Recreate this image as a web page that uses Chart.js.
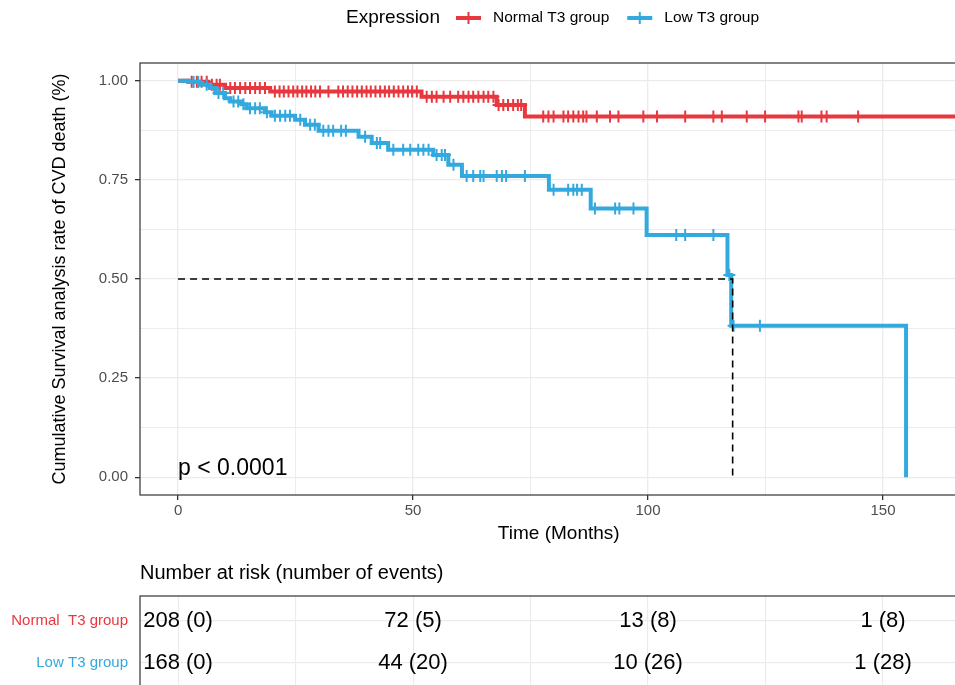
<!DOCTYPE html>
<html>
<head>
<meta charset="utf-8">
<script src="https://cdn.jsdelivr.net/npm/chart.js@4.4.1/dist/chart.umd.min.js"></script>
<style>
  html, body { margin: 0; padding: 0; background: #fff; overflow: hidden; }
  #wrap { position: relative; width: 955px; height: 685px; overflow: hidden; }
  canvas { position: absolute; left: 0; }
  #km { top: 0; }
  #risk { top: 548px; }
</style>
</head>
<body>
<div id="wrap">
  <canvas id="km" width="990" height="560"></canvas>
  <canvas id="risk" width="990" height="180"></canvas>
</div>
<script>
const RED = '#E8383F';
const BLUE = '#33A9DE';
const FONT = "'Liberation Sans', Arial, sans-serif";

const groupNames = ['Normal T3 group', 'Low T3 group'];
const tableNames = ['Normal  T3 group', 'Low T3 group'];

// Kaplan-Meier steps (months, survival)
const normalTimes = [0, 2.2, 6.4, 10, 19.6, 51.8, 67.8, 73.8, 168];
const normalSurv  = [1, 0.998, 0.990, 0.982, 0.973, 0.960, 0.939, 0.910, 0.910];

const lowTimes = [0, 2.2, 4.7, 6.8, 7.9, 10, 11.1, 13.5, 14.6, 18.5, 19.9, 24.9, 27, 29.9,
  38.4, 41.2, 44.7, 54.3, 57.5, 60.4, 78.9, 87.8, 99.7, 116.9, 117.7, 154.9];
const lowSurv = [1, 0.997, 0.990, 0.982, 0.969, 0.956, 0.948, 0.941, 0.931, 0.921, 0.912, 0.902, 0.889, 0.874,
  0.859, 0.843, 0.826, 0.813, 0.788, 0.760, 0.725, 0.678, 0.611, 0.510, 0.382, 0];

// censored observations (months)
const normalCensor = [2.9, 4.0, 5.0, 6.1, 7.2, 8.2, 8.9, 11.1, 12.1, 13.2, 14.3, 15.3, 16.4, 17.4, 18.5,
  20.6, 21.6, 22.5, 23.5, 24.5, 25.4, 26.4, 27.3, 28.3, 29.2, 30.2, 32,
  34.1, 35.1, 36.1, 37.1, 38.1, 39.1, 40.1, 41, 42, 43, 44, 44.9, 45.9, 46.9, 47.9, 48.9, 49.8, 50.8,
  52.9, 54, 55, 56.5, 57.9, 59.6, 60.7, 61.8, 62.8, 63.9, 65, 66, 67.1,
  68.2, 69.2, 70.2, 71.3, 72.3, 73,
  77.7, 78.8, 79.9, 82, 83, 84.1, 85.2, 86.2, 86.9, 89.1, 91.9, 93.7, 99, 101.9, 107.9,
  113.9, 115.7, 121, 124.9, 132, 132.7, 136.9, 138, 144.7];
const lowCensor = [3.3, 4.3, 6.1, 8.6, 9.6, 11.8, 12.8, 13.9, 15.3, 16.4, 17.4, 18.9, 20.6, 21.7, 22.8, 23.8,
  26, 28.1, 29.1, 30.9, 32, 33, 34.7, 35.7, 39.8, 42.3, 43, 45.8, 47.9, 49.4, 51.1, 52.2, 53.3,
  55, 56.1, 56.8, 58.6, 61.4, 62.8, 64.3, 65, 67.8, 68.9, 69.8, 73.8, 79.9, 83, 84.1, 84.9, 85.9,
  88.7, 93, 93.9, 96.9, 106, 107.9, 113.9, 117.3, 118.2, 123.8];

// median survival guide
const medianX = [0, 118, 118];
const medianY = [0.5, 0.5, 0];

// risk table
const riskTimes = [0, 50, 100, 150];
const normalAtRisk = [208, 72, 13, 1];
const normalEvents = [0, 5, 8, 8];
const lowAtRisk = [168, 44, 10, 1];
const lowEvents = [0, 20, 26, 28];

const xTicks = [0, 25, 50, 75, 100, 125, 150];
const yTicks = [0, 0.125, 0.25, 0.375, 0.5, 0.625, 0.75, 0.875, 1];
const pText = 'p < 0.0001';
const tableTitle = 'Number at risk (number of events)';

const X_MIN = -8.1, X_MAX = 170.1;

Chart.defaults.font.family = FONT;

function survAt(times, surv, t) {
  let s = surv[0];
  for (let i = 0; i < times.length; i++) {
    if (times[i] <= t) s = surv[i];
  }
  return s;
}
const toPts = (xs, ys) => xs.map((x, i) => ({ x: x, y: ys[i] }));
const isMajorY = v => Math.abs(v * 4 - Math.round(v * 4)) < 1e-9;
const isMajorX = v => v % 50 === 0;

// ggplot-like legend on one row
const legendPlugin = {
  id: 'topLegend',
  afterDraw(chart) {
    const ctx = chart.ctx;
    const y = 18;
    let x = 346;
    ctx.save();
    ctx.textBaseline = 'middle';
    ctx.textAlign = 'left';
    ctx.fillStyle = '#000';
    ctx.font = '19px ' + FONT;
    ctx.fillText('Expression', x, y);
    x += ctx.measureText('Expression').width + 16;
    ctx.font = '15.5px ' + FONT;
    [[groupNames[0], RED], [groupNames[1], BLUE]].forEach(([name, col]) => {
      ctx.strokeStyle = col;
      ctx.lineWidth = 4;
      ctx.beginPath(); ctx.moveTo(x, y); ctx.lineTo(x + 25, y); ctx.stroke();
      ctx.lineWidth = 2;
      ctx.beginPath(); ctx.moveTo(x + 12.5, y - 6); ctx.lineTo(x + 12.5, y + 6); ctx.stroke();
      x += 37;
      ctx.fillStyle = '#000';
      ctx.fillText(name, x, y);
      x += ctx.measureText(name).width + 18;
    });
    ctx.restore();
  }
};

const borderPlugin = {
  id: 'panelBorder',
  afterDatasetsDraw(chart) {
    const { ctx, chartArea: a } = chart;
    ctx.save();
    ctx.strokeStyle = '#333333';
    ctx.lineWidth = 1.2;
    ctx.strokeRect(a.left, a.top, a.right - a.left, a.bottom - a.top);
    ctx.restore();
  }
};

const pPlugin = {
  id: 'pValue',
  afterDatasetsDraw(chart) {
    const { ctx, scales: { x, y } } = chart;
    ctx.save();
    ctx.fillStyle = '#000';
    ctx.font = '23px ' + FONT;
    ctx.textAlign = 'left';
    ctx.textBaseline = 'alphabetic';
    ctx.fillText(pText, x.getPixelForValue(0), y.getPixelForValue(0.006));
    ctx.restore();
  }
};

const riskPlugin = {
  id: 'riskText',
  afterDatasetsDraw(chart) {
    const { ctx, chartArea, scales: { x, y } } = chart;
    ctx.save();
    ctx.fillStyle = '#000';
    ctx.textBaseline = 'middle';
    ctx.textAlign = 'left';
    ctx.font = '20px ' + FONT;
    ctx.fillText(tableTitle, chartArea.left, chartArea.top - 23);
    ctx.font = '22px ' + FONT;
    ctx.textAlign = 'center';
    riskTimes.forEach((t, i) => {
      ctx.fillText(normalAtRisk[i] + ' (' + normalEvents[i] + ')', x.getPixelForValue(t), y.getPixelForValue(0));
      ctx.fillText(lowAtRisk[i] + ' (' + lowEvents[i] + ')', x.getPixelForValue(t), y.getPixelForValue(1));
    });
    ctx.restore();
  }
};

function censorSet(label, times, surv, cens, col) {
  return {
    label: label,
    data: cens.map(t => ({ x: t, y: survAt(times, surv, t) })),
    showLine: false,
    pointStyle: 'cross',
    pointRadius: 6,
    pointBorderWidth: 2,
    borderColor: col,
    pointBorderColor: col
  };
}

new Chart(document.getElementById('km'), {
  type: 'line',
  data: {
    datasets: [
      {
        label: 'median',
        data: toPts(medianX, medianY),
        borderColor: '#000',
        borderWidth: 1.6,
        borderDash: [7, 5],
        pointRadius: 0
      },
      censorSet(groupNames[1] + ' censor', lowTimes, lowSurv, lowCensor, BLUE),
      {
        label: groupNames[1],
        data: toPts(lowTimes, lowSurv),
        borderColor: BLUE,
        borderWidth: 4,
        pointRadius: 0,
        stepped: true
      },
      censorSet(groupNames[0] + ' censor', normalTimes, normalSurv, normalCensor, RED),
      {
        label: groupNames[0],
        data: toPts(normalTimes, normalSurv),
        borderColor: RED,
        borderWidth: 4,
        pointRadius: 0,
        stepped: true
      }
    ]
  },
  options: {
    responsive: false,
    animation: false,
    events: [],
    layout: { padding: { top: 63, right: 12.5, left: 0, bottom: 0 } },
    plugins: { legend: { display: false }, tooltip: { enabled: false } },
    scales: {
      x: {
        type: 'linear',
        min: X_MIN,
        max: X_MAX,
        afterBuildTicks: s => { s.ticks = xTicks.map(v => ({ value: v })); },
        ticks: {
          callback: v => isMajorX(v) ? String(v) : '',
          color: '#4D4D4D',
          font: { size: 15 },
          padding: 2,
          maxRotation: 0,
          autoSkip: false
        },
        grid: {
          color: '#EBEBEB',
          lineWidth: c => (c.tick && isMajorX(c.tick.value)) ? 1.3 : 0.9,
          tickLength: 5,
          tickColor: c => (c.tick && isMajorX(c.tick.value)) ? '#333333' : 'rgba(0,0,0,0)'
        },
        border: { display: false },
        title: {
          display: true,
          text: 'Time (Months)',
          color: '#000',
          font: { size: 19 },
          padding: { top: 0, bottom: 15 }
        },
        afterFit: s => { s.height = 65; }
      },
      y: {
        type: 'linear',
        min: -0.045,
        max: 1.045,
        afterBuildTicks: s => { s.ticks = yTicks.map(v => ({ value: v })); },
        ticks: {
          callback: v => isMajorY(v) ? v.toFixed(2) : '',
          color: '#4D4D4D',
          font: { size: 15 },
          padding: 7,
          autoSkip: false
        },
        grid: {
          color: '#EBEBEB',
          lineWidth: c => (c.tick && isMajorY(c.tick.value)) ? 1.3 : 0.9,
          tickLength: 5,
          tickColor: c => (c.tick && isMajorY(c.tick.value)) ? '#333333' : 'rgba(0,0,0,0)'
        },
        border: { display: false },
        title: {
          display: true,
          text: 'Cumulative Survival analysis rate of CVD death (%)',
          color: '#000',
          font: { size: 18 },
          padding: { top: 49, bottom: 0 }
        },
        afterFit: s => { s.width = 140; }
      }
    }
  },
  plugins: [legendPlugin, borderPlugin, pPlugin]
});

// risk table: rows 0 and 1 on a reversed linear axis, 42px apart
new Chart(document.getElementById('risk'), {
  type: 'line',
  data: {
    datasets: [
      { label: tableNames[0], data: riskTimes.map(t => ({ x: t, y: 0 })), showLine: false, pointRadius: 0 },
      { label: tableNames[1], data: riskTimes.map(t => ({ x: t, y: 1 })), showLine: false, pointRadius: 0 }
    ]
  },
  options: {
    responsive: false,
    animation: false,
    events: [],
    layout: { padding: { top: 48, right: 12.5, left: 0, bottom: 0 } },
    plugins: { legend: { display: false }, tooltip: { enabled: false } },
    scales: {
      x: {
        type: 'linear',
        min: X_MIN,
        max: X_MAX,
        afterBuildTicks: s => { s.ticks = xTicks.map(v => ({ value: v })); },
        ticks: { display: false },
        grid: { color: '#EBEBEB', lineWidth: 1.1, drawTicks: false },
        border: { display: false },
        afterFit: s => { s.height = 0; }
      },
      y: {
        type: 'linear',
        reverse: true,
        min: -0.595,
        max: 2.048,
        afterBuildTicks: s => { s.ticks = [{ value: 0 }, { value: 1 }]; },
        ticks: {
          callback: v => tableNames[v],
          color: c => (c.tick && c.tick.value === 0) ? RED : BLUE,
          font: { size: 15 },
          padding: 12,
          autoSkip: false
        },
        grid: { color: '#EBEBEB', lineWidth: 1.3, drawTicks: false },
        border: { display: false },
        afterFit: s => { s.width = 140; }
      }
    }
  },
  plugins: [riskPlugin, borderPlugin]
});
</script>
</body>
</html>
